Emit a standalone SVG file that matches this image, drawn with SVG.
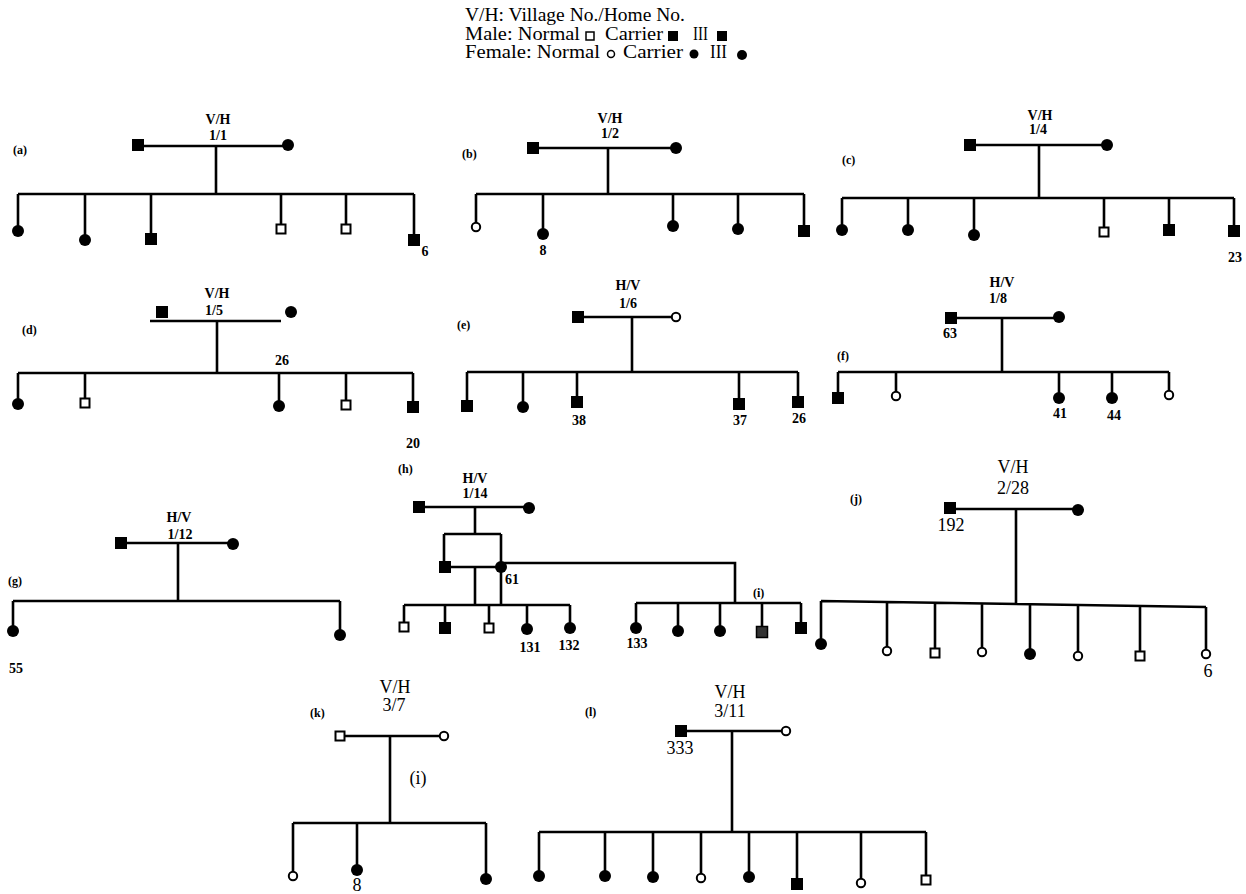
<svg xmlns="http://www.w3.org/2000/svg" xmlns:xlink="http://www.w3.org/1999/xlink" width="1246" height="894" viewBox="0 0 1246 894">
<style>
text{font-family:"Liberation Serif","Times New Roman",serif;fill:#000}
.lg{font-size:18px}
.pl{font-size:12px;font-weight:bold}
.hd{font-size:14px;font-weight:bold;text-anchor:middle}
.nm{font-size:14px;font-weight:bold;text-anchor:middle}
.hb{font-size:18px;text-anchor:middle}
.ln{fill:none;stroke:#000;stroke-width:2.6}
</style>
<defs>
<rect id="fs" x="-6" y="-6" width="12" height="12" fill="#000"/>
<rect id="gs" x="-5.5" y="-5.5" width="11" height="11" fill="#333" stroke="#000" stroke-width="1.5"/>
<rect id="os" x="-4.5" y="-4.5" width="9" height="9" fill="#fff" stroke="#000" stroke-width="2"/>
<circle id="fc" r="6" fill="#000"/>
<circle id="oc" r="4.2" fill="#fff" stroke="#000" stroke-width="2"/>
</defs>
<rect width="1246" height="894" fill="#fff"/>

<g id="legend">
<text class="lg" x="465" y="21" textLength="220" lengthAdjust="spacingAndGlyphs">V/H: Village No./Home No.</text>
<text class="lg" x="465" y="40" textLength="115" lengthAdjust="spacingAndGlyphs">Male: Normal</text>
<rect x="586" y="32" width="8" height="8" fill="#fff" stroke="#000" stroke-width="1.5"/>
<text class="lg" x="605" y="40" textLength="58" lengthAdjust="spacingAndGlyphs">Carrier</text>
<rect x="668" y="31" width="10" height="10" fill="#000"/>
<text class="lg" x="693" y="40" textLength="15" lengthAdjust="spacingAndGlyphs">III</text>
<rect x="717" y="31" width="10" height="10" fill="#000"/>
<text class="lg" x="465" y="58" textLength="135" lengthAdjust="spacingAndGlyphs">Female: Normal</text>
<circle cx="611" cy="54" r="3.5" fill="#fff" stroke="#000" stroke-width="1.5"/>
<text class="lg" x="623" y="58" textLength="60" lengthAdjust="spacingAndGlyphs">Carrier</text>
<circle cx="694" cy="54" r="4.5" fill="#000"/>
<text class="lg" x="710" y="58" textLength="17" lengthAdjust="spacingAndGlyphs">III</text>
<circle cx="742" cy="55" r="5" fill="#000"/>
</g>

<g id="connectors" class="ln">
<!-- a -->
<path d="M138 146H288M216 146V194M18 194H414M18 194V231M85 194V240M151 194V239M281 194V229M346 194V229M414 194V240"/>
<!-- b -->
<path d="M533 148H676M608 148V194M476 194H804M476 194V227M543 194V234M673 194V226M738 194V229M804 194V231"/>
<!-- c -->
<path d="M970 145H1107M1039 145V198M842 198H1234M842 198V230M908 198V230M974 198V235M1104 198V232M1169 198V230M1234 198V231"/>
<!-- d -->
<path d="M150 321H281M217 321V373M18 373H413M18 373V404M85 373V403M279 373V406M346 373V405M413 373V407"/>
<!-- e -->
<path d="M578 317H676M632 317V372M467 372H798M467 372V406M523 372V407M577 372V402M739 372V404M798 372V402"/>
<!-- f -->
<path d="M951 318H1059M1002 318V372M838 372H1169M838 372V398M896 372V396M1059 372V398M1112 372V398M1169 372V395"/>
<!-- g -->
<path d="M121 543H233M178 543V601M13 601H340M13 601V631M340 601V635"/>
<!-- h -->
<path d="M419 507H529M475 507V534M444 534H501M444 534V567M501 534V567M445 567H501M475 567V605M501 567V605M501 563H735V603M404 605H570M404 605V627M445 605V628M489 605V628M527 605V629M570 605V628"/>
<!-- i -->
<path d="M636 603H801M636 603V628M678 603V631M720 603V631M762 603V632M801 603V628"/>
<!-- j -->
<path d="M950 509H1078M1016 509V604M821 601L1206 607M821 601V644M887 602V651M935 603V653M982 604V652M1030 604V654M1078 605V656M1140 606V656M1206 607V654"/>
<!-- k -->
<path d="M340 736H444M390 736V823M293 823H486M293 823V876M357 823V870M486 823V879"/>
<!-- l -->
<path d="M681 731H786M732 731V832M539 832H926M539 832V876M605 832V876M653 832V877M701 832V878M749 832V877M797 832V884M861 832V883M926 832V880"/>
</g>

<g id="ped-a">
<text class="pl" x="13" y="154">(a)</text>
<text class="hd" x="218" y="124">V/H</text>
<text class="hd" x="218" y="140">1/1</text>
<g id="a-f"><use xlink:href="#fs" x="138" y="145"/></g>
<g id="a-m"><use xlink:href="#fc" x="288" y="145"/></g>
<g id="a-1"><use xlink:href="#fc" x="18" y="231"/></g>
<g id="a-2"><use xlink:href="#fc" x="85" y="240"/></g>
<g id="a-3"><use xlink:href="#fs" x="151" y="239"/></g>
<g id="a-4"><use xlink:href="#os" x="281" y="229"/></g>
<g id="a-5"><use xlink:href="#os" x="346" y="229"/></g>
<g id="a-6"><use xlink:href="#fs" x="414" y="240"/><text class="nm" x="425" y="256">6</text></g>
</g>

<g id="ped-b">
<text class="pl" x="462" y="158">(b)</text>
<text class="hd" x="610" y="123">V/H</text>
<text class="hd" x="610" y="138">1/2</text>
<g id="b-f"><use xlink:href="#fs" x="533" y="148"/></g>
<g id="b-m"><use xlink:href="#fc" x="676" y="148"/></g>
<g id="b-1"><use xlink:href="#oc" x="476" y="227"/></g>
<g id="b-2"><use xlink:href="#fc" x="543" y="234"/><text class="nm" x="543" y="255">8</text></g>
<g id="b-3"><use xlink:href="#fc" x="673" y="226"/></g>
<g id="b-4"><use xlink:href="#fc" x="738" y="229"/></g>
<g id="b-5"><use xlink:href="#fs" x="804" y="231"/></g>
</g>

<g id="ped-c">
<text class="pl" x="842" y="164">(c)</text>
<text class="hd" x="1040" y="120">V/H</text>
<text class="hd" x="1038" y="134">1/4</text>
<g id="c-f"><use xlink:href="#fs" x="970" y="145"/></g>
<g id="c-m"><use xlink:href="#fc" x="1107" y="145"/></g>
<g id="c-1"><use xlink:href="#fc" x="842" y="230"/></g>
<g id="c-2"><use xlink:href="#fc" x="908" y="230"/></g>
<g id="c-3"><use xlink:href="#fc" x="974" y="235"/></g>
<g id="c-4"><use xlink:href="#os" x="1104" y="232"/></g>
<g id="c-5"><use xlink:href="#fs" x="1169" y="230"/></g>
<g id="c-6"><use xlink:href="#fs" x="1234" y="231"/><text class="nm" x="1235" y="262">23</text></g>
</g>

<g id="ped-d">
<text class="pl" x="22" y="334">(d)</text>
<text class="hd" x="217" y="298">V/H</text>
<text class="hd" x="214" y="315">1/5</text>
<g id="d-f"><use xlink:href="#fs" x="162" y="312"/></g>
<g id="d-m"><use xlink:href="#fc" x="291" y="312"/></g>
<text class="nm" x="282" y="365">26</text>
<g id="d-1"><use xlink:href="#fc" x="18" y="404"/></g>
<g id="d-2"><use xlink:href="#os" x="85" y="403"/></g>
<g id="d-3"><use xlink:href="#fc" x="279" y="406"/></g>
<g id="d-4"><use xlink:href="#os" x="346" y="405"/></g>
<g id="d-5"><use xlink:href="#fs" x="413" y="407"/><text class="nm" x="413" y="448">20</text></g>
</g>

<g id="ped-e">
<text class="pl" x="457" y="329">(e)</text>
<text class="hd" x="628" y="290">H/V</text>
<text class="hd" x="628" y="308">1/6</text>
<g id="e-f"><use xlink:href="#fs" x="578" y="317"/></g>
<g id="e-m"><use xlink:href="#oc" x="676" y="317"/></g>
<g id="e-1"><use xlink:href="#fs" x="467" y="406"/></g>
<g id="e-2"><use xlink:href="#fc" x="523" y="407"/></g>
<g id="e-3"><use xlink:href="#fs" x="577" y="402"/><text class="nm" x="579" y="425">38</text></g>
<g id="e-4"><use xlink:href="#fs" x="739" y="404"/><text class="nm" x="740" y="425">37</text></g>
<g id="e-5"><use xlink:href="#fs" x="798" y="402"/><text class="nm" x="799" y="423">26</text></g>
</g>

<g id="ped-f">
<text class="pl" x="837" y="360">(f)</text>
<text class="hd" x="1002" y="287">H/V</text>
<text class="hd" x="998" y="303">1/8</text>
<g id="f-f"><use xlink:href="#fs" x="951" y="318"/><text class="nm" x="950" y="338">63</text></g>
<g id="f-m"><use xlink:href="#fc" x="1059" y="317"/></g>
<g id="f-1"><use xlink:href="#fs" x="838" y="398"/></g>
<g id="f-2"><use xlink:href="#oc" x="896" y="396"/></g>
<g id="f-3"><use xlink:href="#fc" x="1059" y="398"/><text class="nm" x="1060" y="418">41</text></g>
<g id="f-4"><use xlink:href="#fc" x="1112" y="398"/><text class="nm" x="1114" y="420">44</text></g>
<g id="f-5"><use xlink:href="#oc" x="1169" y="395"/></g>
</g>

<g id="ped-g">
<text class="pl" x="8" y="585">(g)</text>
<text class="hd" x="179" y="522">H/V</text>
<text class="hd" x="180" y="539">1/12</text>
<g id="g-f"><use xlink:href="#fs" x="121" y="543"/></g>
<g id="g-m"><use xlink:href="#fc" x="233" y="544"/></g>
<g id="g-1"><use xlink:href="#fc" x="13" y="631"/><text class="nm" x="16" y="673">55</text></g>
<g id="g-2"><use xlink:href="#fc" x="340" y="635"/></g>
</g>

<g id="ped-h">
<text class="pl" x="398" y="473">(h)</text>
<text class="hd" x="475" y="483">H/V</text>
<text class="hd" x="475" y="498">1/14</text>
<g id="h-f"><use xlink:href="#fs" x="419" y="507"/></g>
<g id="h-m"><use xlink:href="#fc" x="529" y="508"/></g>
<g id="h-s"><use xlink:href="#fs" x="445" y="567"/></g>
<g id="h-d"><use xlink:href="#fc" x="501" y="567"/><text class="nm" x="512" y="584">61</text></g>
<g id="h-1"><use xlink:href="#os" x="404" y="627"/></g>
<g id="h-2"><use xlink:href="#fs" x="445" y="628"/></g>
<g id="h-3"><use xlink:href="#os" x="489" y="628"/></g>
<g id="h-4"><use xlink:href="#fc" x="527" y="629"/><text class="nm" x="530" y="652">131</text></g>
<g id="h-5"><use xlink:href="#fc" x="570" y="628"/><text class="nm" x="569" y="650">132</text></g>
</g>

<g id="ped-i">
<text class="pl" x="753" y="597">(i)</text>
<g id="i-1"><use xlink:href="#fc" x="636" y="628"/><text class="nm" x="637" y="648">133</text></g>
<g id="i-2"><use xlink:href="#fc" x="678" y="631"/></g>
<g id="i-3"><use xlink:href="#fc" x="720" y="631"/></g>
<g id="i-4"><use xlink:href="#gs" x="762" y="632"/></g>
<g id="i-5"><use xlink:href="#fs" x="801" y="628"/></g>
</g>

<g id="ped-j">
<text class="pl" x="850" y="503">(j)</text>
<text class="hb" x="1013" y="473">V/H</text>
<text class="hb" x="1013" y="494">2/28</text>
<g id="j-f"><use xlink:href="#fs" x="950" y="508"/><text class="hb" x="951" y="531">192</text></g>
<g id="j-m"><use xlink:href="#fc" x="1078" y="510"/></g>
<g id="j-1"><use xlink:href="#fc" x="821" y="644"/></g>
<g id="j-2"><use xlink:href="#oc" x="887" y="651"/></g>
<g id="j-3"><use xlink:href="#os" x="935" y="653"/></g>
<g id="j-4"><use xlink:href="#oc" x="982" y="652"/></g>
<g id="j-5"><use xlink:href="#fc" x="1030" y="654"/></g>
<g id="j-6"><use xlink:href="#oc" x="1078" y="656"/></g>
<g id="j-7"><use xlink:href="#os" x="1140" y="656"/></g>
<g id="j-8"><use xlink:href="#oc" x="1206" y="654"/><text class="hb" x="1208" y="677">6</text></g>
</g>

<g id="ped-k">
<text class="pl" x="310" y="717">(k)</text>
<text class="hb" x="395" y="693">V/H</text>
<text class="hb" x="394" y="711">3/7</text>
<text class="hb" x="418" y="784">(i)</text>
<g id="k-f"><use xlink:href="#os" x="340" y="736"/></g>
<g id="k-m"><use xlink:href="#oc" x="444" y="736"/></g>
<g id="k-1"><use xlink:href="#oc" x="293" y="876"/></g>
<g id="k-2"><use xlink:href="#fc" x="357" y="870"/><text class="hb" x="357" y="891">8</text></g>
<g id="k-3"><use xlink:href="#fc" x="486" y="879"/></g>
</g>

<g id="ped-l">
<text class="pl" x="585" y="716">(l)</text>
<text class="hb" x="730" y="698">V/H</text>
<text class="hb" x="730" y="717">3/11</text>
<g id="l-f"><use xlink:href="#fs" x="681" y="731"/><text class="hb" x="680" y="754">333</text></g>
<g id="l-m"><use xlink:href="#oc" x="786" y="731"/></g>
<g id="l-1"><use xlink:href="#fc" x="539" y="876"/></g>
<g id="l-2"><use xlink:href="#fc" x="605" y="876"/></g>
<g id="l-3"><use xlink:href="#fc" x="653" y="877"/></g>
<g id="l-4"><use xlink:href="#oc" x="701" y="878"/></g>
<g id="l-5"><use xlink:href="#fc" x="749" y="877"/></g>
<g id="l-6"><use xlink:href="#fs" x="797" y="884"/></g>
<g id="l-7"><use xlink:href="#oc" x="861" y="883"/></g>
<g id="l-8"><use xlink:href="#os" x="926" y="880"/></g>
</g>
</svg>
